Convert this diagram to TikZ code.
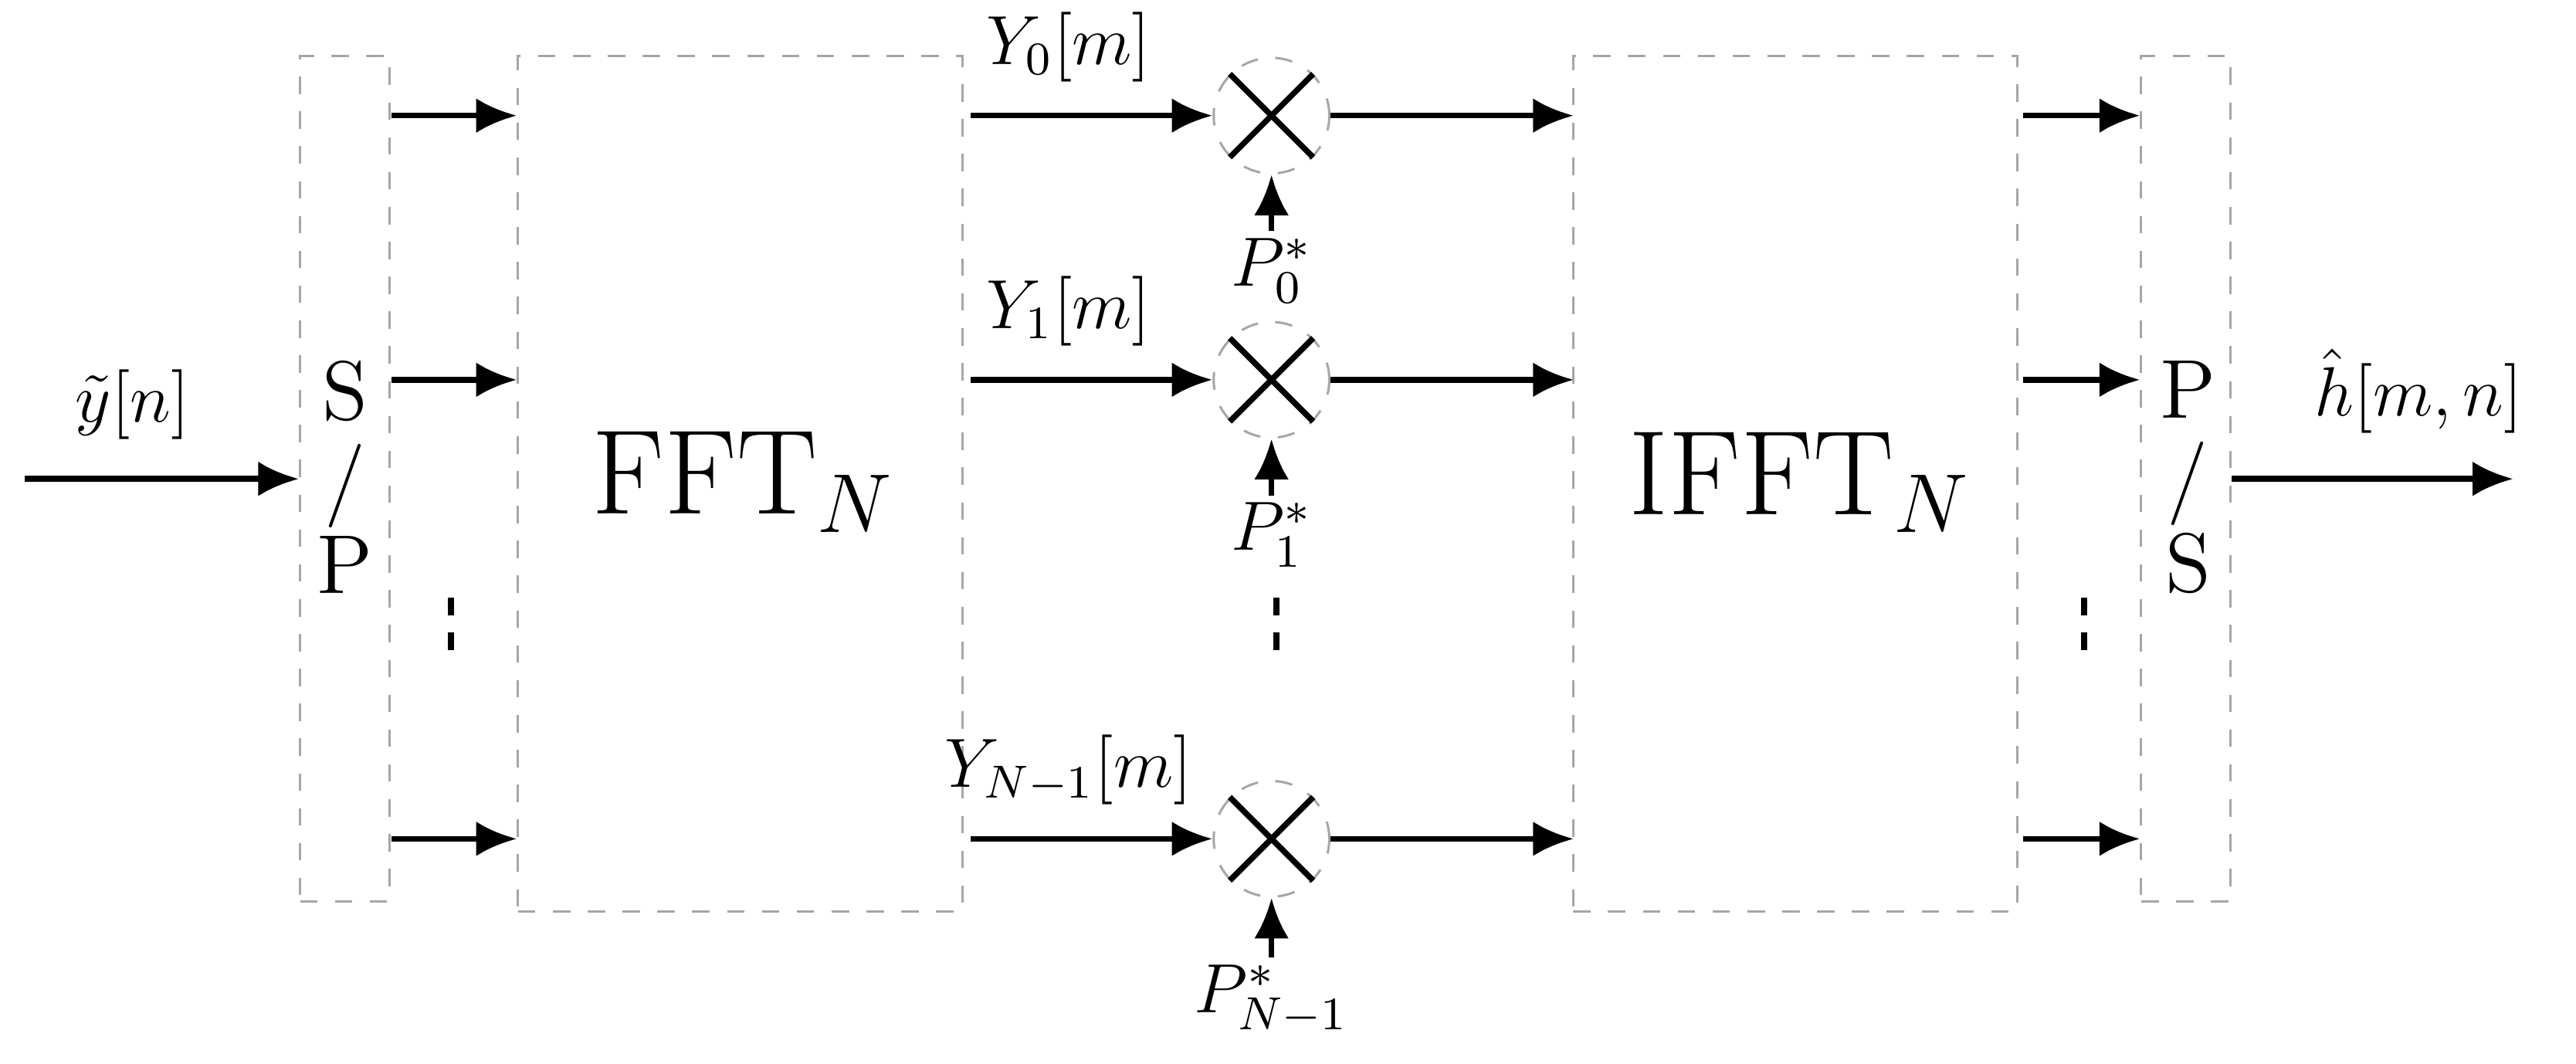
\documentclass[tikz,border=0pt]{standalone}
\usetikzlibrary{arrows.meta}
\begin{document}
\begin{tikzpicture}[x=0.01cm,y=-0.01cm,
  box/.style={draw=gray!70,dashed,line width=0.4pt,inner sep=0,anchor=north west},
  arr/.style={line width=1pt,-{Latex[length=7pt,width=6pt]}},
  mult/.style={circle,draw=gray!70,dashed,line width=0.4pt,minimum size=0.7cm,inner sep=0},
  lbl/.style={font=\large}]
\useasboundingbox (0,0) rectangle (1560,644);
% boxes
\node[box,minimum width=0.54cm,minimum height=5.12cm] (sp) at (181,33) {};
\node[box,minimum width=2.69cm,minimum height=5.18cm] (fft) at (313,33) {};
\node[box,minimum width=2.69cm,minimum height=5.18cm] (ifft) at (952,33) {};
\node[box,minimum width=0.54cm,minimum height=5.12cm] (ps) at (1296,33) {};
\node[font=\Large,align=center] at (209,289) {S\\[-3pt]/\\[-3pt]P};
\node[font=\Large,align=center] at (1325,289) {P\\[-3pt]/\\[-3pt]S};
\node[font=\huge] at (450,292) {FFT$_N$};
\node[font=\huge] at (1090,292) {IFFT$_N$};
% input/output
\coordinate (in) at (15,290);
\coordinate (out) at (1522,290);
\draw[arr] (in) -- (in -| sp.west) node[midway,above,lbl,xshift=-5pt,yshift=3pt] {$\tilde{y}[n]$};
\draw[arr] (out -| ps.east) -- (out) node[midway,above,lbl,xshift=8pt,yshift=4pt] {$\hat{h}[m,n]$};
% rows
\foreach \y/\i/\yl/\pl/\py in {70/0/{Y_0[m]}/{P_0^*}/140, 230/1/{Y_1[m]}/{P_1^*}/300, 508/2/{Y_{N-1}[m]}/{P_{N-1}^*}/580}{
  \coordinate (a\i) at (237,\y);
  \coordinate (b\i) at (313,\y);
  \coordinate (c\i) at (588,\y);
  \node[mult] (m\i) at (770,\y) {};
  \draw[line width=1pt] (m\i.north west) -- (m\i.south east) (m\i.north east) -- (m\i.south west);
  \coordinate (d\i) at (953,\y);
  \coordinate (e\i) at (1225,\y);
  \coordinate (f\i) at (1296,\y);
  \coordinate (q\i) at (770,\py);
  \draw[arr] (a\i) -- (b\i);
  \draw[arr] (c\i) -- (m\i.west) node[midway,above,lbl,xshift=-4pt,yshift=2pt] {$\yl$};
  \draw[arr] (m\i.east) -- (d\i);
  \draw[arr] (e\i) -- (f\i);
  \node[lbl,anchor=north,inner sep=1pt] (p\i) at (q\i) {$\pl$};
  \draw[arr] (q\i) -- (m\i.south);
}
% dots
\foreach \x in {273,773,1262}{
  \coordinate (t\x) at (\x,362);
  \coordinate (u\x) at (\x,396);
  \draw[line width=1pt,dash pattern=on 3pt off 3pt] (t\x) -- (u\x);
}
\end{tikzpicture}
\end{document}
